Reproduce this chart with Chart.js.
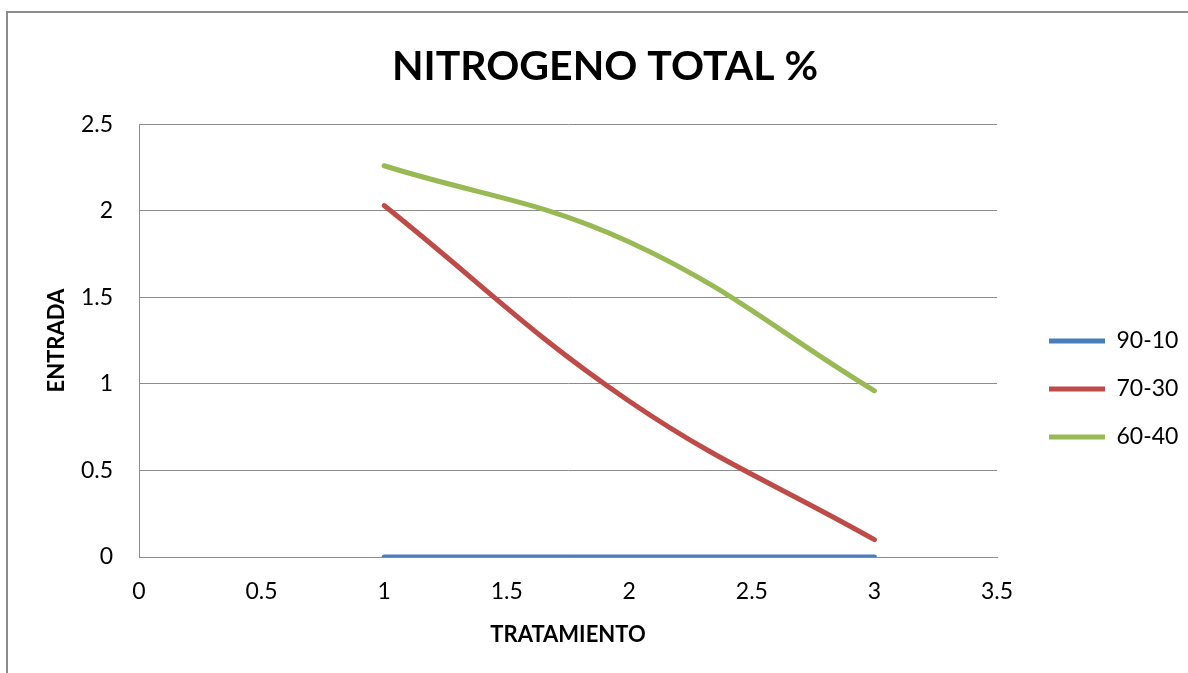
<!DOCTYPE html>
<html>
<head>
<meta charset="utf-8">
<script src="https://cdn.jsdelivr.net/npm/chart.js@4"></script>
<style>
  body { margin: 0; background: #fff; }
  #wrap { position: relative; width: 1188px; height: 673px; overflow: hidden; }
  #frame { position: absolute; left: 6px; top: 11px; width: 1400px; height: 900px;
           border-left: 2px solid #8c8c8c; border-top: 2px solid #8c8c8c; }
  canvas { position: absolute; left: 0; top: 0; }
</style>
</head>
<body>
<div id="wrap">
  <div id="frame"></div>
  <canvas id="chart" width="1188" height="673"></canvas>
</div>
<script>
const tratamiento = [1, 2, 3];
const serie9010 = [0, 0, 0];
const serie7030 = [2.03, 0.9, 0.1];
const serie6040 = [2.26, 1.82, 0.96];
const seriesNames = ["90-10", "70-30", "60-40"];
const seriesColors = ["#4a7ebb", "#be4b48", "#98b954"];

const toPoints = (vals) => vals.map((v, i) => ({ x: tratamiento[i], y: v }));
const allSeries = [serie9010, serie7030, serie6040];

const datasets = allSeries.map((vals, i) => ({
  label: seriesNames[i],
  data: toPoints(vals),
  borderColor: seriesColors[i],
  backgroundColor: seriesColors[i],
  borderWidth: 5,
  borderCapStyle: "round",
  pointRadius: 0,
  showLine: true,
  tension: 0.4,
}));

const fontFam = "Lato, 'Open Sans', sans-serif";
const tickLabel = (v) => String(v);

// fixed legend width so the plot ends where the original does,
// then move the legend items to where the original has them
const legendBox = {
  id: "legendBox",
  afterInit(chart) {
    const lg = chart.legend;
    const orig = lg.fit;
    lg.fit = function () {
      orig.call(this);
      this.width = 191;
    };
  },
  afterLayout(chart) {
    const lg = chart.legend;
    lg.left += 27;
    lg.right += 27;
    lg.top += 63;
    lg.bottom += 63;
  }
};

new Chart(document.getElementById("chart"), {
  type: "scatter",
  data: { datasets },
  plugins: [legendBox],
  options: {
    responsive: false,
    animation: false,
    layout: { padding: { left: 22, right: 0, top: 0, bottom: 21 } },
    plugins: {
      title: {
        display: true,
        text: "NITROGENO TOTAL %",
        color: "#000",
        font: { family: fontFam, size: 41, weight: "bold" },
        padding: { top: 42, bottom: 33 },
      },
      legend: {
        position: "right",
        labels: {
          usePointStyle: true,
          pointStyle: "line",
          pointStyleWidth: 56,
          boxHeight: 20,
          color: "#000",
          font: { family: fontFam, size: 23 },
          padding: 25,
        },
      },
      tooltip: { enabled: false },
    },
    scales: {
      x: {
        type: "linear",
        min: 0,
        max: 3.5,
        afterFit(scale) { scale.height = 95; },
        ticks: { stepSize: 0.5, color: "#000", padding: 21, callback: tickLabel, font: { family: fontFam, size: 23 } },
        grid: { display: false, drawTicks: false },
        border: { display: true, color: "#8c8c8c", width: 1 },
        title: {
          display: true,
          text: "TRATAMIENTO",
          color: "#000",
          font: { family: fontFam, size: 22, weight: "bold" },
          padding: { top: 2 },
        },
      },
      y: {
        min: 0,
        max: 2.5,
        afterFit(scale) { scale.width = 117; },
        ticks: { stepSize: 0.5, color: "#000", padding: 26, callback: tickLabel, font: { family: fontFam, size: 23 } },
        grid: { color: "#8c8c8c", lineWidth: 1, drawTicks: false },
        border: { display: true, color: "#8c8c8c", width: 1 },
        title: {
          display: true,
          text: "ENTRADA",
          color: "#000",
          font: { family: fontFam, size: 22, weight: "bold" },
          padding: { top: 22, bottom: 0 },
        },
      },
    },
  },
});
</script>
</body>
</html>
